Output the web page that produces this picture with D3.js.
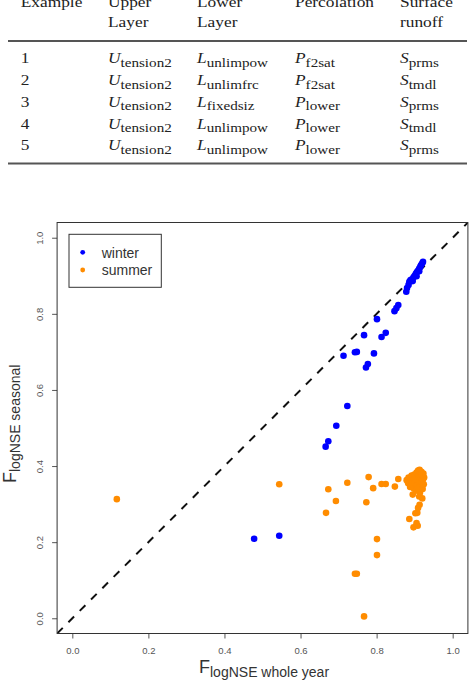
<!DOCTYPE html>
<meta charset="utf-8">
<style>
body { margin: 0; background: #fff; }
.tbl { font-family: "Liberation Serif", "Times New Roman", serif; fill: #222; }
.axis text { font-family: "Liberation Sans", Arial, sans-serif; font-size: 9.5px; fill: #555; }
.axis line { stroke: #555; }
.title { font-family: "Liberation Sans", Arial, sans-serif; fill: #333; }
.legend text { font-family: "Liberation Sans", Arial, sans-serif; font-size: 14px; fill: #333; }
</style>
<svg width="473" height="687"></svg>
<script src="https://cdnjs.cloudflare.com/ajax/libs/d3/7.8.5/d3.min.js"></script>
<script>

// table contents
var headLine1 = ["Example", "Upper", "Lower", "Percolation", "Surface"];
var headLine2 = ["", "Layer", "Layer", "", "runoff"];
var examples = ["1", "2", "3", "4", "5"];
var upperSub = ["tension2", "tension2", "tension2", "tension2", "tension2"];
var lowerSub = ["unlimpow", "unlimfrc", "fixedsiz", "unlimpow", "unlimpow"];
var percSub = ["f2sat", "f2sat", "lower", "lower", "lower"];
var surfSub = ["prms", "tmdl", "prms", "tmdl", "prms"];

// scatter: [whole year, seasonal]
var winter = [
  [0.478, 0.209], [0.544, 0.217],
  [0.666, 0.451], [0.673, 0.465], [0.694, 0.506], [0.723, 0.558],
  [0.772, 0.659], [0.777, 0.668], [0.713, 0.690], [0.743, 0.699], [0.748, 0.700], [0.793, 0.696],
  [0.767, 0.744], [0.813, 0.739], [0.824, 0.750], [0.801, 0.786],
  [0.847, 0.807], [0.852, 0.815], [0.857, 0.823],
  [0.878, 0.858], [0.880, 0.868], [0.884, 0.876], [0.886, 0.884], [0.889, 0.889], [0.893, 0.891],
  [0.897, 0.896], [0.900, 0.900], [0.903, 0.905], [0.906, 0.910], [0.909, 0.914], [0.912, 0.919],
  [0.915, 0.924], [0.917, 0.928], [0.920, 0.933], [0.922, 0.937], [0.895, 0.886], [0.905, 0.899],
  [0.912, 0.912]
];
var summer = [
  [0.117, 0.313], [0.544, 0.352], [0.667, 0.277], [0.673, 0.339], [0.693, 0.308], [0.723, 0.356],
  [0.779, 0.371], [0.791, 0.342], [0.773, 0.305], [0.813, 0.353], [0.824, 0.353], [0.848, 0.346],
  [0.857, 0.366], [0.801, 0.208], [0.801, 0.166], [0.743, 0.117], [0.748, 0.117], [0.767, 0.005],
  [0.886, 0.261], [0.897, 0.239], [0.908, 0.243], [0.905, 0.250], [0.902, 0.276], [0.907, 0.277],
  [0.879, 0.363], [0.883, 0.355], [0.884, 0.370], [0.888, 0.345], [0.889, 0.362], [0.892, 0.375],
  [0.893, 0.352], [0.896, 0.366], [0.897, 0.342], [0.899, 0.378], [0.900, 0.356], [0.902, 0.370],
  [0.903, 0.335], [0.905, 0.383], [0.906, 0.350], [0.907, 0.365], [0.909, 0.388], [0.910, 0.342],
  [0.911, 0.375], [0.912, 0.358], [0.913, 0.390], [0.914, 0.330], [0.915, 0.380], [0.916, 0.348],
  [0.917, 0.368], [0.918, 0.385], [0.919, 0.356], [0.920, 0.375], [0.921, 0.340], [0.922, 0.365],
  [0.923, 0.380], [0.924, 0.352], [0.925, 0.370],
  [0.895, 0.325], [0.912, 0.320], [0.920, 0.315], [0.913, 0.298], [0.909, 0.290]
];
var ticks = [0, 0.2, 0.4, 0.6, 0.8, 1.0];
var seriesNames = ["winter", "summer"];
var seriesColors = ["#0000ff", "#ff8c00"];

var svg = d3.select("svg");

// ---- table ----
var colX = [20.7, 108, 197, 295, 400];
var mains = [null, "U", "L", "P", "S"];
var subs = [null, upperSub, lowerSub, percSub, surfSub];
var rowY = d3.scaleLinear().domain([0, 4]).range([63.3, 150.5]);

var tbl = svg.append("g").attr("class", "tbl");
colX.forEach(function(x, c) {
  var col = tbl.append("g").attr("transform", "translate(" + x + ",0) scale(1.12,1)");
  col.append("text").attr("y", 6.5).style("font-size", "15.5px").text(headLine1[c]);
  col.append("text").attr("y", 27.5).style("font-size", "15.5px").text(headLine2[c]);
  examples.forEach(function(e, r) {
    var t = col.append("text").attr("y", rowY(r)).style("font-size", "15.5px");
    if (c == 0) { t.text(e); return; }
    t.append("tspan").style("font-style", "italic").text(mains[c]);
    t.append("tspan").attr("dy", 3.5).style("font-size", "13.5px").text(subs[c][r]);
  });
});
[41, 163.5].forEach(function(y) {
  tbl.append("line").attr("x1", 8).attr("x2", 467).attr("y1", y).attr("y2", y)
    .style("stroke", "#555").style("stroke-width", 2);
});

// ---- scatter ----
var x = d3.scaleLinear().domain([-0.04, 1.04]).range([57.1, 467.9]);
var y = d3.scaleLinear().domain([-0.04, 1.04]).range([633.5, 222.5]);

svg.append("defs").append("clipPath").attr("id", "clip")
  .append("rect").attr("x", x(-0.04)).attr("y", y(1.04))
  .attr("width", x(1.04) - x(-0.04)).attr("height", y(-0.04) - y(1.04));

var xAxis = svg.append("g").attr("class", "axis")
  .attr("transform", "translate(0," + y(-0.04) + ")")
  .call(d3.axisBottom(x).tickValues(ticks).tickSize(5).tickPadding(9).tickFormat(d3.format(".1f")));
xAxis.select(".domain").remove();

var yAxis = svg.append("g").attr("class", "axis")
  .attr("transform", "translate(" + x(-0.04) + ",0)")
  .call(d3.axisLeft(y).tickValues(ticks).tickSize(5).tickFormat(d3.format(".1f")));
yAxis.select(".domain").remove();
yAxis.selectAll("text")
  .attr("x", 0).attr("dy", 0)
  .attr("text-anchor", "middle")
  .attr("transform", "translate(-14,0) rotate(-90)");

svg.append("line")
  .attr("clip-path", "url(#clip)")
  .attr("x1", x(-0.04)).attr("y1", y(-0.04)).attr("x2", x(1.04)).attr("y2", y(1.04))
  .style("stroke", "#111").style("stroke-width", 2).style("stroke-dasharray", "8,8");

[winter, summer].forEach(function(s, i) {
  svg.append("g").selectAll("circle").data(s).enter().append("circle")
    .attr("cx", function(d) { return x(d[0]); })
    .attr("cy", function(d) { return y(d[1]); })
    .attr("r", 3.3)
    .style("fill", seriesColors[i]);
});

svg.append("rect")
  .attr("x", x(-0.04)).attr("y", y(1.04))
  .attr("width", x(1.04) - x(-0.04)).attr("height", y(-0.04) - y(1.04))
  .style("fill", "none").style("stroke", "#333").style("stroke-width", 1);

// axis titles
var xt = svg.append("text").attr("class", "title").attr("x", 199).attr("y", 673);
xt.append("tspan").style("font-size", "18px").text("F");
xt.append("tspan").attr("dy", 4).style("font-size", "14px").text("logNSE whole year");

var yt = svg.append("text").attr("class", "title").attr("transform", "translate(16,483) rotate(-90)");
yt.append("tspan").style("font-size", "18px").text("F");
yt.append("tspan").attr("dy", 4).style("font-size", "14px").text("logNSE seasonal");

// legend
var lg = svg.append("g").attr("class", "legend");
lg.append("rect").attr("x", 69).attr("y", 234.3).attr("width", 92.3).attr("height", 53)
  .style("fill", "#fff").style("stroke", "#333");
seriesNames.forEach(function(n, i) {
  lg.append("circle").attr("cx", 82.7).attr("cy", 252.3 + i * 17.7).attr("r", 2.4).style("fill", seriesColors[i]);
  lg.append("text").attr("x", 101.7).attr("y", 257.5 + i * 17.7).text(n);
});

</script>
